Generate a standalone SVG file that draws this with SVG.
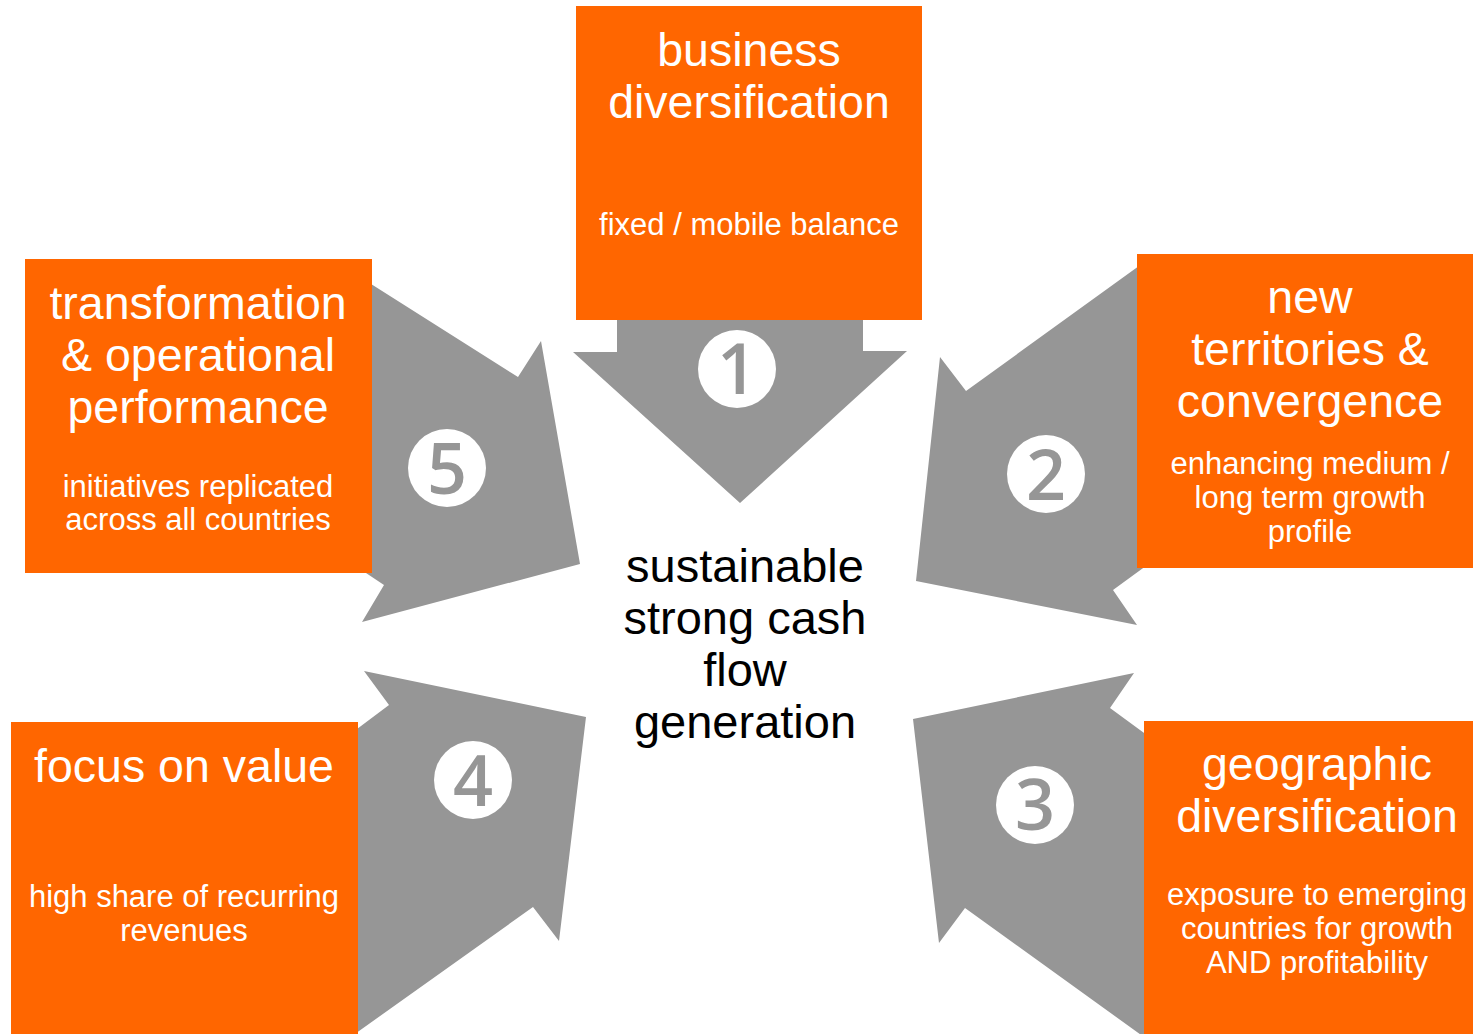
<svg xmlns="http://www.w3.org/2000/svg" width="1473" height="1034" viewBox="0 0 1473 1034">
  <style>
    .arrow { fill: #969696; }
    .box { fill: #FF6600; }
    .title { font-family: "Liberation Sans", Arial, sans-serif; font-size: 46.5px; fill: #ffffff; text-anchor: middle; }
    .sub { font-family: "Liberation Sans", Arial, sans-serif; font-size: 31px; fill: #ffffff; text-anchor: middle; }
    .badge { fill: #ffffff; }
    .num { font-family: "Open Sans", "Liberation Sans", sans-serif; font-weight: 600; font-size: 70px; fill: #969696; text-anchor: middle; }
    .center { font-family: "Liberation Sans", Arial, sans-serif; font-size: 47px; fill: #000000; text-anchor: middle; }
  </style>
  <rect width="1473" height="1034" fill="#ffffff"/>

  <!-- arrows pointing at the centre -->
  <g id="connectors">
    <polygon id="arrow-1" class="arrow" points="617,318 863,318 863,351 907,351 740,503 573,352 617,352"/>
    <polygon id="arrow-2" class="arrow" points="1150,258 966,391 940,357 916,581 1137,625 1113,590 1150,563"/>
    <polygon id="arrow-3" class="arrow" points="913,719 1134,673 1110,708 1155,741 1155,1045 965,908 939,943"/>
    <polygon id="arrow-4" class="arrow" points="364,671 586,717 559,941 533,907 345,1041 345,738 389,705"/>
    <polygon id="arrow-5" class="arrow" points="360,277 518,377 541,341 580,564 362,622 384,585 360,569"/>
  </g>

  <!-- numbered badges -->
  <g id="badge-1"><circle class="badge" cx="737" cy="369" r="39"/><text class="num" x="737" y="394">1</text></g>
  <g id="badge-2"><circle class="badge" cx="1046" cy="474" r="39"/><text class="num" x="1046" y="500">2</text></g>
  <g id="badge-3"><circle class="badge" cx="1035" cy="805" r="39"/><text class="num" x="1035" y="830">3</text></g>
  <g id="badge-4"><circle class="badge" cx="473" cy="780" r="39"/><text class="num" x="473" y="806">4</text></g>
  <g id="badge-5"><circle class="badge" cx="447" cy="468" r="39"/><text class="num" x="447" y="494">5</text></g>

  <g id="node-1">
    <rect class="box" x="576" y="6" width="346" height="314"/>
    <text class="title" x="749" y="66">business</text>
    <text class="title" x="749" y="118">diversification</text>
    <text class="sub" x="749" y="235">fixed / mobile balance</text>
  </g>

  <g id="node-2">
    <rect class="box" x="1137" y="254" width="346" height="314"/>
    <text class="title" x="1310" y="313">new</text>
    <text class="title" x="1310" y="365">territories &amp;</text>
    <text class="title" x="1310" y="417">convergence</text>
    <text class="sub" x="1310" y="474">enhancing medium /</text>
    <text class="sub" x="1310" y="508">long term growth</text>
    <text class="sub" x="1310" y="542">profile</text>
  </g>

  <g id="node-3">
    <rect class="box" x="1144" y="721" width="346" height="320"/>
    <text class="title" x="1317" y="780">geographic</text>
    <text class="title" x="1317" y="832">diversification</text>
    <text class="sub" x="1317" y="905">exposure to emerging</text>
    <text class="sub" x="1317" y="939">countries for growth</text>
    <text class="sub" x="1317" y="973">AND profitability</text>
  </g>

  <g id="node-4">
    <rect class="box" x="11" y="722" width="347" height="320"/>
    <text class="title" x="184" y="782">focus on value</text>
    <text class="sub" x="184" y="907">high share of recurring</text>
    <text class="sub" x="184" y="941">revenues</text>
  </g>

  <g id="node-5">
    <rect class="box" x="25" y="259" width="347" height="314"/>
    <text class="title" x="198" y="319">transformation</text>
    <text class="title" x="198" y="371">&amp; operational</text>
    <text class="title" x="198" y="423">performance</text>
    <text class="sub" x="198" y="497">initiatives replicated</text>
    <text class="sub" x="198" y="530">across all countries</text>
  </g>

  <g id="node-centre">
    <text class="center" x="745" y="582">sustainable</text>
    <text class="center" x="745" y="634">strong cash</text>
    <text class="center" x="745" y="686">flow</text>
    <text class="center" x="745" y="738">generation</text>
  </g>
</svg>
